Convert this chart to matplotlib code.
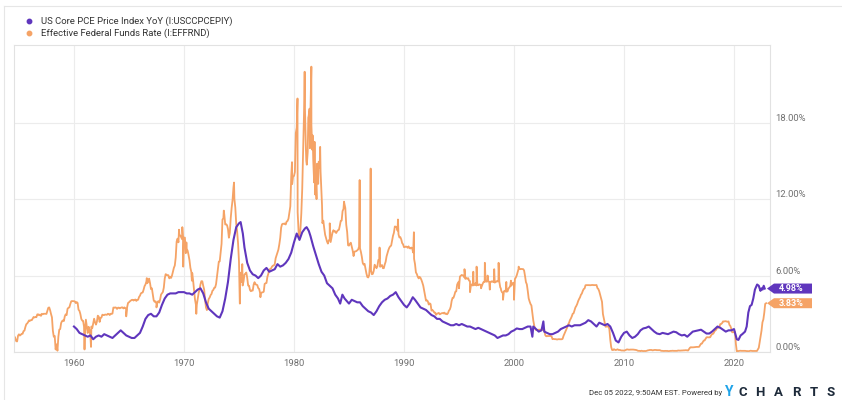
import numpy as np
import matplotlib
matplotlib.use('Agg')
import matplotlib.pyplot as plt
import matplotlib.transforms as mtransforms
from matplotlib.lines import Line2D
from matplotlib.patches import Polygon

plt.rcParams['font.family'] = ['Roboto', 'DejaVu Sans']

# Effective fed funds rate, monthly from July 1954 (percent)
ffr_start = 1954.5
ffr_monthly = [
    0.20, 1.22, 1.07, 0.85, 0.83, 1.28,                                  # 1954
    1.39, 1.29, 1.35, 1.43, 1.43, 1.64, 1.68, 1.96, 2.18, 2.24, 2.35, 2.48,  # 1955
    2.45, 2.50, 2.50, 2.62, 2.75, 2.71, 2.75, 2.73, 2.95, 2.96, 2.88, 2.94,  # 1956
    2.84, 3.00, 2.96, 3.00, 3.00, 3.00, 2.99, 3.24, 3.47, 3.50, 3.28, 2.98,  # 1957
    2.72, 1.67, 1.20, 1.26, 0.20, 0.60, 0.10, 1.20, 1.76, 1.80, 2.27, 2.42,  # 1958
    2.48, 2.43, 2.80, 2.96, 2.90, 3.39, 3.47, 3.50, 3.76, 3.98, 4.00, 3.99,  # 1959
    3.99, 3.97, 3.84, 3.92, 3.85, 3.32, 3.23, 2.98, 2.60, 2.47, 2.44, 1.98,  # 1960
    1.45, 2.54, 2.02, 1.49, 1.98, 1.73, 1.17, 2.00, 1.88, 2.26, 2.61, 2.33,  # 1961
    2.15, 2.37, 2.85, 2.78, 2.36, 2.68, 2.71, 2.93, 2.90, 2.90, 2.94, 2.93,  # 1962
    2.92, 3.00, 2.98, 2.90, 3.00, 2.99, 3.02, 3.49, 3.48, 3.50, 3.48, 3.38,  # 1963
    3.48, 3.48, 3.43, 3.47, 3.50, 3.50, 3.42, 3.50, 3.45, 3.36, 3.52, 3.85,  # 1964
    3.90, 3.98, 4.04, 4.09, 4.10, 4.04, 4.09, 4.12, 4.01, 4.08, 4.10, 4.32,  # 1965
    4.42, 4.60, 4.65, 4.67, 4.90, 5.17, 5.30, 5.53, 5.40, 5.53, 5.76, 5.40,  # 1966
    4.94, 5.00, 4.53, 4.05, 3.94, 3.98, 3.79, 3.90, 3.99, 3.88, 4.13, 4.51,  # 1967
    4.61, 4.71, 5.05, 5.76, 6.11, 6.07, 6.02, 6.03, 5.78, 5.91, 5.82, 6.02,  # 1968
    6.30, 6.61, 6.79, 7.41, 8.67, 8.90, 8.61, 9.19, 9.15, 9.00, 8.85, 8.97,  # 1969
    8.98, 8.98, 7.76, 8.10, 7.95, 7.61, 7.21, 6.61, 6.29, 6.20, 5.60, 4.90,  # 1970
    4.14, 3.72, 3.71, 4.16, 4.63, 4.91, 5.31, 5.56, 5.55, 5.20, 4.91, 4.14,  # 1971
    3.50, 3.29, 3.83, 4.17, 4.27, 4.46, 4.55, 4.80, 4.87, 5.04, 5.06, 5.33,  # 1972
    5.94, 6.58, 7.09, 7.12, 7.84, 8.49, 10.40, 10.50, 10.78, 10.01, 10.03, 9.95,  # 1973
    9.65, 8.97, 9.35, 10.51, 11.31, 11.93, 12.92, 12.01, 11.34, 10.06, 9.45, 8.53,  # 1974
    7.13, 6.24, 5.54, 5.49, 5.22, 5.55, 6.10, 6.14, 6.24, 5.82, 5.22, 5.20,  # 1975
    4.87, 4.77, 4.84, 4.82, 5.29, 5.48, 5.31, 5.29, 5.25, 5.02, 4.95, 4.65,  # 1976
    4.61, 4.68, 4.69, 4.73, 5.35, 5.39, 5.42, 5.90, 6.14, 6.47, 6.51, 6.56,  # 1977
    6.70, 6.78, 6.79, 6.89, 7.36, 7.60, 7.81, 8.04, 8.45, 8.96, 9.76, 10.03,  # 1978
    10.07, 10.06, 10.09, 10.01, 10.24, 10.29, 10.47, 10.94, 11.43, 13.77, 13.18, 13.78,  # 1979
    13.82, 14.13, 17.19, 17.61, 10.98, 9.47, 9.03, 9.61, 10.87, 12.81, 15.85, 18.90,  # 1980
    19.08, 15.93, 14.70, 15.72, 18.52, 19.10, 19.04, 17.82, 15.87, 15.08, 13.31, 12.37,  # 1981
    13.22, 14.78, 14.68, 14.94, 14.45, 14.15, 12.59, 10.12, 10.31, 9.71, 9.20, 8.95,  # 1982
    8.68, 8.51, 8.77, 8.80, 8.63, 8.98, 9.37, 9.56, 9.45, 9.48, 9.34, 9.47,  # 1983
    9.56, 9.59, 9.91, 10.29, 10.32, 11.06, 11.23, 11.64, 11.30, 9.99, 9.43, 8.38,  # 1984
    8.35, 8.50, 8.58, 8.27, 7.97, 7.53, 7.88, 7.90, 7.92, 7.99, 8.05, 8.27,  # 1985
    8.14, 7.86, 7.48, 6.99, 6.85, 6.92, 6.56, 6.17, 5.89, 5.85, 6.04, 6.91,  # 1986
    6.43, 6.10, 6.13, 6.37, 6.85, 6.73, 6.58, 6.73, 7.22, 7.29, 6.69, 6.77,  # 1987
    6.83, 6.58, 6.58, 6.87, 7.09, 7.51, 7.75, 8.01, 8.19, 8.30, 8.35, 8.76,  # 1988
    9.12, 9.36, 9.85, 9.84, 9.81, 9.53, 9.24, 8.99, 9.02, 8.84, 8.55, 8.45,  # 1989
    8.23, 8.24, 8.28, 8.26, 8.18, 8.29, 8.15, 8.13, 8.20, 8.11, 7.81, 7.31,  # 1990
    6.91, 6.25, 6.12, 5.91, 5.78, 5.90, 5.82, 5.66, 5.45, 5.21, 4.81, 4.43,  # 1991
    4.03, 4.06, 3.98, 3.73, 3.82, 3.76, 3.25, 3.30, 3.22, 3.10, 3.09, 2.92,  # 1992
    3.02, 3.03, 3.07, 2.96, 3.00, 3.04, 3.06, 3.03, 3.09, 2.99, 3.02, 2.96,  # 1993
    3.05, 3.25, 3.34, 3.56, 4.01, 4.25, 4.26, 4.47, 4.73, 4.76, 5.29, 5.45,  # 1994
    5.53, 5.92, 5.98, 6.05, 6.01, 6.00, 5.85, 5.74, 5.80, 5.76, 5.80, 5.60,  # 1995
    5.56, 5.22, 5.31, 5.22, 5.24, 5.27, 5.40, 5.22, 5.30, 5.24, 5.31, 5.29,  # 1996
    5.25, 5.19, 5.39, 5.51, 5.50, 5.56, 5.52, 5.54, 5.54, 5.50, 5.52, 5.50,  # 1997
    5.56, 5.51, 5.49, 5.45, 5.49, 5.56, 5.54, 5.55, 5.51, 5.07, 4.83, 4.68,  # 1998
    4.63, 4.76, 4.81, 4.74, 4.74, 4.76, 4.99, 5.07, 5.22, 5.20, 5.42, 5.30,  # 1999
    5.45, 5.73, 5.85, 6.02, 6.27, 6.53, 6.54, 6.50, 6.52, 6.51, 6.51, 6.40,  # 2000
    5.98, 5.49, 5.31, 4.80, 4.21, 3.97, 3.77, 3.65, 3.07, 2.49, 2.09, 1.82,  # 2001
    1.73, 1.74, 1.73, 1.75, 1.75, 1.75, 1.73, 1.74, 1.75, 1.75, 1.34, 1.24,  # 2002
    1.24, 1.26, 1.25, 1.26, 1.26, 1.22, 1.01, 1.03, 1.01, 1.01, 1.00, 0.98,  # 2003
    1.00, 1.01, 1.00, 1.00, 1.00, 1.03, 1.26, 1.43, 1.61, 1.76, 1.93, 2.16,  # 2004
    2.28, 2.50, 2.63, 2.79, 3.00, 3.04, 3.26, 3.50, 3.62, 3.78, 4.00, 4.16,  # 2005
    4.29, 4.49, 4.59, 4.79, 4.94, 4.99, 5.24, 5.25, 5.25, 5.25, 5.25, 5.24,  # 2006
    5.25, 5.26, 5.26, 5.25, 5.25, 5.25, 5.26, 5.02, 4.94, 4.76, 4.49, 4.24,  # 2007
    3.94, 2.98, 2.61, 2.28, 1.98, 2.00, 2.01, 2.00, 1.81, 0.97, 0.39, 0.16,  # 2008
    0.15, 0.22, 0.18, 0.15, 0.18, 0.21, 0.16, 0.16, 0.15, 0.12, 0.12, 0.12,  # 2009
    0.11, 0.13, 0.16, 0.20, 0.20, 0.18, 0.18, 0.19, 0.19, 0.19, 0.19, 0.18,  # 2010
    0.17, 0.16, 0.14, 0.10, 0.09, 0.09, 0.07, 0.10, 0.08, 0.07, 0.08, 0.07,  # 2011
    0.08, 0.10, 0.13, 0.14, 0.16, 0.16, 0.16, 0.13, 0.14, 0.16, 0.16, 0.16,  # 2012
    0.14, 0.15, 0.14, 0.15, 0.11, 0.09, 0.09, 0.08, 0.08, 0.09, 0.08, 0.09,  # 2013
    0.07, 0.07, 0.08, 0.09, 0.09, 0.10, 0.09, 0.09, 0.09, 0.09, 0.09, 0.12,  # 2014
    0.11, 0.11, 0.11, 0.12, 0.12, 0.13, 0.13, 0.14, 0.14, 0.12, 0.12, 0.24,  # 2015
    0.34, 0.38, 0.36, 0.37, 0.37, 0.38, 0.39, 0.40, 0.40, 0.40, 0.41, 0.54,  # 2016
    0.65, 0.66, 0.79, 0.90, 0.91, 1.04, 1.15, 1.16, 1.15, 1.15, 1.16, 1.30,  # 2017
    1.41, 1.42, 1.51, 1.69, 1.70, 1.82, 1.91, 1.91, 1.95, 2.19, 2.20, 2.27,  # 2018
    2.40, 2.40, 2.41, 2.42, 2.39, 2.38, 2.40, 2.13, 2.04, 1.83, 1.55, 1.55,  # 2019
    1.55, 1.58, 0.65, 0.05, 0.05, 0.08, 0.09, 0.10, 0.09, 0.09, 0.09, 0.09,  # 2020
    0.09, 0.08, 0.07, 0.07, 0.06, 0.08, 0.10, 0.09, 0.08, 0.08, 0.08, 0.08,  # 2021
    0.08, 0.08, 0.20, 0.33, 0.77, 1.21, 1.68, 2.33, 2.56, 3.08, 3.78,        # 2022
]
ffr_last_date = 2022.92
ffr_last_value = 3.83

# single-day prints that stick out of the monthly path
ffr_spike_dates = [
    1960.96, 1961.55, 1964.75, 1966.62, 1967.50, 1969.55, 1969.85, 1969.93,
    1970.22, 1970.72, 1971.12, 1973.62, 1974.55, 1975.08, 1975.30, 1976.95,
    1979.82, 1980.32, 1980.97, 1981.12, 1981.30, 1981.45, 1981.58, 1981.70,
    1981.87, 1982.05, 1982.20, 1982.38, 1982.55, 1983.25, 1984.55, 1985.97,
    1986.97, 1987.78, 1989.45, 1990.90, 1995.00, 1995.50, 1996.00, 1996.30,
    1996.60, 1997.00, 1997.35, 1997.60, 1997.80, 1998.20, 1998.60, 1998.80,
    1999.00, 1999.30, 1999.72, 2000.00, 2000.42,
]
ffr_spike_values = [
    0.20, 0.40, 2.80, 5.80, 3.50, 9.60, 9.80, 6.70,
    8.60, 5.60, 3.00, 11.10, 13.30, 3.80, 6.90, 4.30,
    14.90, 19.90, 22.00, 15.00, 18.40, 16.00, 22.40, 17.00,
    16.50, 12.00, 13.20, 16.10, 11.50, 10.10, 11.80, 13.50,
    14.40, 8.20, 10.40, 9.40, 5.00, 6.50, 4.70, 6.30,
    6.70, 5.00, 7.00, 6.00, 4.90, 6.50, 7.00, 5.00,
    4.10, 5.50, 5.60, 4.10, 6.70,
]

# Core PCE price index, year over year (percent)
pce_dates = [
    1960.00, 1960.25, 1960.50, 1960.75, 1961.00, 1961.25, 1961.50, 1961.75,
    1962.00, 1962.25, 1962.50, 1962.75, 1963.00, 1963.25, 1963.50, 1963.75,
    1964.00, 1964.25, 1964.50, 1964.75, 1965.00, 1965.25, 1965.50, 1965.75,
    1966.00, 1966.25, 1966.50, 1966.75, 1967.00, 1967.25, 1967.50, 1967.75,
    1968.00, 1968.25, 1968.50, 1968.75, 1969.00, 1969.25, 1969.50, 1969.75,
    1970.00, 1970.25, 1970.50, 1970.75, 1971.00, 1971.25, 1971.50, 1971.75,
    1972.00, 1972.25, 1972.50, 1972.75, 1973.00, 1973.25, 1973.50, 1973.75,
    1974.00, 1974.25, 1974.50, 1974.75, 1975.00, 1975.15, 1975.35, 1975.50,
    1975.75, 1976.00, 1976.25, 1976.50, 1976.75, 1977.00, 1977.25, 1977.50,
    1977.75, 1978.00, 1978.25, 1978.50, 1978.75, 1979.00, 1979.25, 1979.50,
    1979.75, 1980.00, 1980.25, 1980.50, 1980.75, 1981.00, 1981.15, 1981.35,
    1981.50, 1981.75, 1982.00, 1982.25, 1982.50, 1982.75, 1983.00, 1983.25,
    1983.50, 1983.75, 1984.00, 1984.20, 1984.40, 1984.60, 1984.80, 1985.00,
    1985.25, 1985.50, 1985.75, 1986.00, 1986.25, 1986.50, 1986.75, 1987.00,
    1987.25, 1987.50, 1987.75, 1988.00, 1988.25, 1988.50, 1988.75, 1989.00,
    1989.25, 1989.50, 1989.75, 1990.00, 1990.25, 1990.50, 1990.80, 1991.00,
    1991.25, 1991.50, 1991.75, 1992.00, 1992.25, 1992.50, 1992.75, 1993.00,
    1993.25, 1993.50, 1993.75, 1994.00, 1994.25, 1994.50, 1994.75, 1995.00,
    1995.25, 1995.50, 1995.75, 1996.00, 1996.25, 1996.50, 1996.75, 1997.00,
    1997.25, 1997.50, 1997.75, 1998.00, 1998.25, 1998.50, 1998.75, 1999.00,
    1999.25, 1999.50, 1999.75, 2000.00, 2000.25, 2000.50, 2000.75, 2001.00,
    2001.25, 2001.50, 2001.67, 2001.75, 2002.00, 2002.25, 2002.50, 2002.67,
    2002.75, 2003.00, 2003.25, 2003.50, 2003.75, 2004.00, 2004.25, 2004.50,
    2004.75, 2005.00, 2005.25, 2005.50, 2005.75, 2006.00, 2006.25, 2006.50,
    2006.75, 2007.00, 2007.25, 2007.50, 2007.75, 2008.00, 2008.25, 2008.50,
    2008.75, 2009.00, 2009.25, 2009.50, 2009.75, 2010.00, 2010.25, 2010.50,
    2010.75, 2011.00, 2011.25, 2011.50, 2011.75, 2012.00, 2012.25, 2012.50,
    2012.75, 2013.00, 2013.25, 2013.50, 2013.75, 2014.00, 2014.25, 2014.50,
    2014.75, 2015.00, 2015.25, 2015.50, 2015.75, 2016.00, 2016.25, 2016.50,
    2016.75, 2017.00, 2017.25, 2017.50, 2017.75, 2018.00, 2018.25, 2018.50,
    2018.75, 2019.00, 2019.25, 2019.50, 2019.75, 2020.00, 2020.25, 2020.40,
    2020.60, 2020.75, 2021.00, 2021.15, 2021.30, 2021.45, 2021.60, 2021.75,
    2021.90, 2022.10, 2022.25, 2022.40, 2022.50, 2022.60, 2022.70, 2022.79,
]
pce_values = [
    2.0, 1.8, 1.5, 1.4, 1.3, 1.2, 1.3, 1.0,
    1.2, 1.3, 1.2, 1.4, 1.3, 1.2, 1.1, 1.3,
    1.5, 1.7, 1.5, 1.3, 1.2, 1.1, 1.1, 1.3,
    1.5, 2.0, 2.6, 2.9, 3.0, 2.8, 2.8, 3.1,
    3.7, 4.2, 4.5, 4.6, 4.6, 4.6, 4.7, 4.7,
    4.7, 4.6, 4.6, 4.5, 4.7, 4.9, 5.0, 4.6,
    3.9, 3.4, 3.2, 3.0, 2.8, 2.7, 3.2, 4.2,
    5.5, 7.3, 8.8, 9.8, 10.1, 10.2, 9.3, 8.2,
    7.0, 6.4, 6.1, 6.0, 5.8, 6.0, 6.4, 6.6,
    6.3, 6.4, 6.5, 6.9, 6.7, 6.8, 7.0, 7.3,
    7.8, 8.6, 9.3, 8.8, 9.4, 9.7, 9.8, 9.5,
    9.1, 8.3, 7.6, 6.9, 6.3, 6.0, 5.4, 5.2,
    5.0, 4.5, 4.2, 3.8, 4.5, 4.2, 4.0, 3.8,
    4.1, 4.0, 3.9, 3.9, 3.6, 3.4, 3.2, 3.1,
    2.9, 3.2, 3.6, 3.9, 4.1, 4.2, 4.4, 4.5,
    4.7, 4.3, 4.0, 3.7, 3.5, 3.8, 4.3, 4.1,
    3.8, 3.5, 3.4, 3.3, 3.1, 2.9, 2.8, 2.6,
    2.6, 2.4, 2.3, 2.2, 2.1, 2.1, 2.2, 2.1,
    2.2, 2.1, 2.0, 2.0, 1.9, 1.8, 1.9, 1.8,
    1.7, 1.6, 1.5, 1.4, 1.3, 1.1, 1.2, 1.3,
    1.3, 1.4, 1.6, 1.7, 1.85, 1.8, 1.8, 1.9,
    2.0, 2.0, 1.2, 2.0, 1.8, 1.6, 1.7, 2.4,
    1.6, 1.5, 1.4, 1.4, 1.5, 1.6, 1.8, 1.9,
    2.0, 2.1, 2.0, 2.1, 2.1, 2.1, 2.2, 2.3,
    2.5, 2.4, 2.2, 2.0, 2.3, 2.2, 2.1, 2.2,
    2.0, 1.5, 0.9, 0.75, 1.2, 1.5, 1.6, 1.3,
    1.1, 1.2, 1.4, 1.7, 1.85, 1.9, 2.0, 1.8,
    1.6, 1.45, 1.4, 1.5, 1.45, 1.4, 1.5, 1.6,
    1.55, 1.4, 1.3, 1.35, 1.2, 1.4, 1.6, 1.65,
    1.7, 1.75, 1.6, 1.45, 1.45, 1.6, 1.8, 2.0,
    1.9, 1.75, 1.6, 1.7, 1.7, 1.8, 1.0, 0.95,
    1.3, 1.4, 1.6, 2.0, 3.1, 3.6, 3.7, 4.2,
    4.9, 5.3, 5.2, 4.8, 5.0, 4.9, 5.2, 4.98,
]

decades = [1960, 1970, 1980, 1990, 2000, 2010, 2020]
pct_ticks = [0, 6, 12, 18]

pce_label = 'US Core PCE Price Index YoY (I:USCCPCEPIY)'
ffr_label = 'Effective Federal Funds Rate (I:EFFRND)'
stamp = 'Dec 05 2022, 9:50AM EST. Powered by'

PURPLE = '#5f36bd'
ORANGE = '#f5a366'
GRID = '#ececec'
TICK_TEXT = '#707070'

W, H = 842, 400
fig = plt.figure(figsize=(W / 100, H / 100), dpi=100)
ax = fig.add_axes([14 / W, 48 / H, 756 / W, 307 / H])

# faint panel edge along the top and left of the card
fig.add_artist(Line2D([4 / W, 1], [1 - 6 / H, 1 - 6 / H], color='#e6e6e6',
                      lw=0.8, transform=fig.transFigure))
fig.add_artist(Line2D([4 / W, 4 / W], [0, 1 - 6 / H], color='#e6e6e6',
                      lw=0.8, transform=fig.transFigure))

# fed funds: monthly path plus the odd daily spike, merged in date order
ffr_x = np.concatenate([ffr_start + np.arange(len(ffr_monthly)) / 12.0,
                        ffr_spike_dates, [ffr_last_date]])
ffr_y = np.concatenate([ffr_monthly, ffr_spike_values, [ffr_last_value]])
order = np.argsort(ffr_x, kind='stable')
ax.plot(ffr_x[order], ffr_y[order], color=ORANGE, lw=1.3,
        solid_joinstyle='round', zorder=2)
ax.plot(pce_dates, pce_values, color=PURPLE, lw=1.5,
        solid_joinstyle='round', zorder=3)

ax.set_xlim(1954.55, 2023.27)
ax.set_ylim(0, 24.1)
ax.set_xticks(decades)
ax.set_xticklabels([str(d) for d in decades])
ax.set_yticks(pct_ticks)
ax.set_yticklabels(['%.2f%%' % v for v in pct_ticks])
ax.yaxis.tick_right()
ax.tick_params(axis='both', length=0, labelsize=6.8, labelcolor=TICK_TEXT)
ax.tick_params(axis='x', pad=5)
ax.tick_params(axis='y', pad=4)
for lbl in ax.get_yticklabels():
    lbl.set_verticalalignment('bottom')
ax.grid(color=GRID, lw=0.8)
ax.set_axisbelow(True)
for side in ax.spines:
    ax.spines[side].set_color('#e2e2e2')
    ax.spines[side].set_linewidth(0.8)

# last-value tags on the right edge, drawn in pixel units from the value
blend = mtransforms.blended_transform_factory(ax.transAxes, ax.transData)
pixels = mtransforms.IdentityTransform()
for value, color in [(pce_values[-1], PURPLE), (ffr_last_value, ORANGE)]:
    px, py = blend.transform((1.0, value))
    shape = np.array([[-3, 0], [4, 5], [42, 5], [42, -5], [4, -5]]) + [px, py]
    fig.add_artist(Polygon(shape, closed=True, facecolor=color, edgecolor='none',
                           transform=pixels, zorder=5))
    fig.text(px + 21, py, '%.2f%%' % value, transform=pixels,
             ha='center', va='center', color='white', fontsize=6.5,
             fontweight='bold', zorder=6)

# legend
for row, (label, color) in enumerate([(pce_label, PURPLE), (ffr_label, ORANGE)]):
    yy = 1 - (21 + 12 * row) / H
    fig.add_artist(Line2D([29 / W], [yy], marker='o', markersize=3.2,
                          color=color, transform=fig.transFigure))
    fig.text(41 / W, yy, label, ha='left', va='center', fontsize=6.8,
             color='#333333')

# footer
fig.text(722 / W, 1 - 393 / H, stamp, ha='right', va='center',
         fontsize=5.6, color='#333333')
fig.text(729 / W, 1 - 392 / H, 'Y', ha='center', va='center', fontsize=10,
         fontweight='bold', color='#1fa3e8')
for cx, ch in zip([743, 760, 778, 796, 814, 831], 'CHARTS'):
    fig.text(cx / W, 1 - 392 / H, ch, ha='center', va='center', fontsize=9.5,
             fontweight='bold', color='#1d2a3a')

fig.savefig('out.png', dpi=100, facecolor='white')
